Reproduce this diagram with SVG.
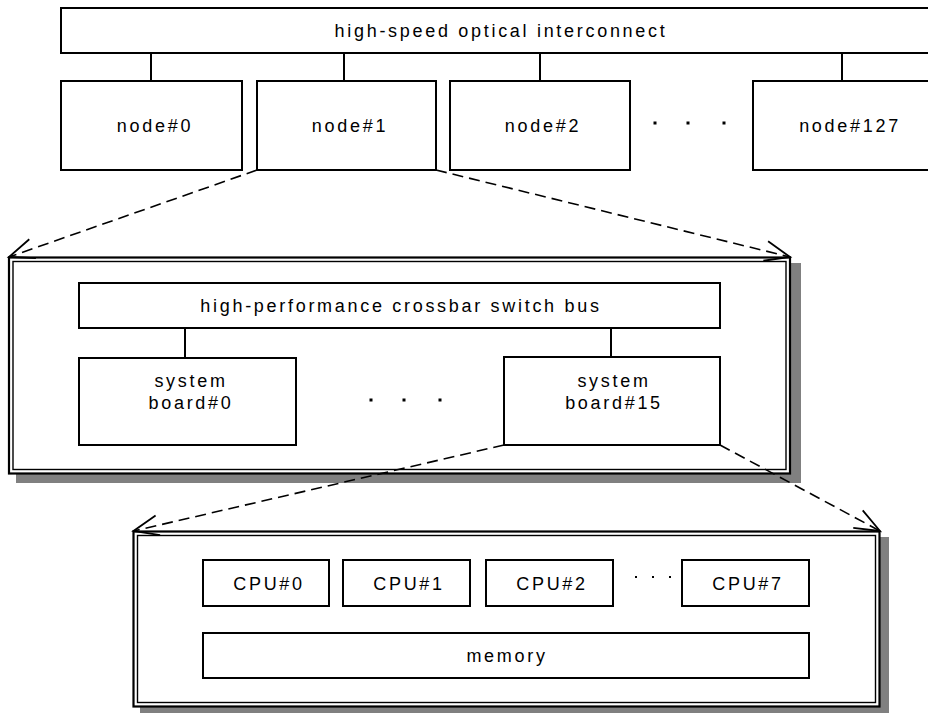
<svg xmlns="http://www.w3.org/2000/svg" width="928" height="713" viewBox="0 0 928 713">
  <style>
    .box { fill: #ffffff; stroke: #000000; stroke-width: 2; }
    .frame-out { fill: #ffffff; stroke: #000000; stroke-width: 2.2; }
    .frame-in { fill: none; stroke: #000000; stroke-width: 1.4; }
    .shadow { fill: #808080; stroke: none; }
    .wire { stroke: #000000; stroke-width: 2; fill: none; }
    .zoom { stroke: #000000; stroke-width: 1.6; fill: none; stroke-dasharray: 11 6; marker-end: url(#open-arrow); }
    .dot { fill: #000000; }
    text { font-family: "Liberation Sans", Arial, sans-serif; font-size: 18px; letter-spacing: 2.7px; fill: #000000; text-anchor: middle; }
  </style>
  <defs>
    <marker id="open-arrow" markerUnits="userSpaceOnUse" orient="auto" refX="0" refY="0" viewBox="-30 -15 32 30" markerWidth="32" markerHeight="30" overflow="visible">
      <path d="M-25,-10 L0,0 L-25,10" fill="none" stroke="#000000" stroke-width="1.8" stroke-dasharray="none"/>
    </marker>
  </defs>

  <!-- cluster level -->
  <g id="interconnect">
    <rect class="box" x="61" y="8" width="880" height="45"/>
    <text x="501" y="37">high-speed optical interconnect</text>
  </g>

  <g id="links-top">
    <line class="wire" x1="151" y1="53" x2="151" y2="81"/>
    <line class="wire" x1="344" y1="53" x2="344" y2="81"/>
    <line class="wire" x1="540" y1="53" x2="540" y2="81"/>
    <line class="wire" x1="842" y1="53" x2="842" y2="81"/>
  </g>

  <g id="node0">
    <rect class="box" x="61" y="81" width="181" height="89"/>
    <text x="155" y="132">node#0</text>
  </g>
  <g id="node1">
    <rect class="box" x="257" y="81" width="179" height="89"/>
    <text x="350" y="132">node#1</text>
  </g>
  <g id="node2">
    <rect class="box" x="450" y="81" width="180" height="89"/>
    <text x="543" y="132">node#2</text>
  </g>
  <g id="node-ellipsis">
    <rect class="dot" x="653.5" y="121.5" width="3" height="3"/>
    <rect class="dot" x="686.5" y="121.5" width="3" height="3"/>
    <rect class="dot" x="722.5" y="121.5" width="3" height="3"/>
  </g>
  <g id="node127">
    <rect class="box" x="753" y="81" width="188" height="89"/>
    <text x="850" y="132">node#127</text>
  </g>

  <!-- node level -->
  <g id="node-detail">
    <rect class="shadow" x="16" y="263" width="785" height="220"/>
    <rect class="frame-out" x="9" y="257.5" width="781" height="216"/>
    <rect class="frame-in" x="13" y="261.5" width="773" height="208"/>
  </g>

  <g id="crossbar">
    <rect class="box" x="79" y="283" width="641" height="45"/>
    <text x="401" y="312">high-performance crossbar switch bus</text>
  </g>

  <g id="links-mid">
    <line class="wire" x1="185" y1="328" x2="185" y2="358"/>
    <line class="wire" x1="611" y1="328" x2="611" y2="357"/>
  </g>

  <g id="board0">
    <rect class="box" x="79" y="358" width="217" height="87"/>
    <text x="191" y="387">system</text>
    <text x="191" y="409">board#0</text>
  </g>
  <g id="board-ellipsis">
    <rect class="dot" x="369.5" y="398.5" width="3" height="3"/>
    <rect class="dot" x="402.5" y="398.5" width="3" height="3"/>
    <rect class="dot" x="438.5" y="398.5" width="3" height="3"/>
  </g>
  <g id="board15">
    <rect class="box" x="504" y="357" width="216" height="88"/>
    <text x="614" y="387">system</text>
    <text x="614" y="409">board#15</text>
  </g>

  <!-- board level -->
  <g id="board-detail">
    <rect class="shadow" x="140" y="537" width="749" height="176"/>
    <rect class="frame-out" x="133.5" y="531.5" width="746" height="175"/>
    <rect class="frame-in" x="137.5" y="535.5" width="738" height="167"/>
  </g>

  <g id="cpu0">
    <rect class="box" x="203" y="560" width="126" height="46"/>
    <text x="269" y="590">CPU#0</text>
  </g>
  <g id="cpu1">
    <rect class="box" x="343" y="560" width="127" height="46"/>
    <text x="409" y="590">CPU#1</text>
  </g>
  <g id="cpu2">
    <rect class="box" x="486" y="560" width="127" height="46"/>
    <text x="552" y="590">CPU#2</text>
  </g>
  <g id="cpu-ellipsis">
    <rect class="dot" x="635" y="576" width="2" height="2"/>
    <rect class="dot" x="652" y="576" width="2" height="2"/>
    <rect class="dot" x="669" y="576" width="2" height="2"/>
  </g>
  <g id="cpu7">
    <rect class="box" x="682" y="560" width="127" height="46"/>
    <text x="748" y="590">CPU#7</text>
  </g>
  <g id="memory">
    <rect class="box" x="203" y="633" width="606" height="45"/>
    <text x="507" y="662">memory</text>
  </g>

  <!-- zoom-in connectors -->
  <g id="connectors">
    <line class="zoom" x1="257" y1="170" x2="9" y2="257"/>
    <line class="zoom" x1="436" y1="170" x2="790" y2="257"/>
    <line class="zoom" x1="504" y1="445" x2="133.5" y2="531"/>
    <line class="zoom" x1="720" y1="445" x2="880" y2="531"/>
  </g>
</svg>
